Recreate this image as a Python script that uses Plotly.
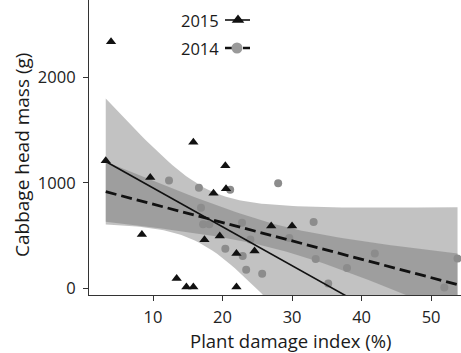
import numpy as np
import plotly.graph_objects as go

# ---- data ----
x2015 = [3.96, 3.2, 9.6, 8.4, 13.4, 14.8, 15.8, 22.0, 20.4, 18.7, 20.5, 17.4, 19.6, 22.0, 24.6, 27.0, 30.0, 15.8]
y2015 = [2341, 1210, 1053, 510, 92, 12, 12, 12, 1163, 903, 945, 461, 496, 329, 354, 591, 591, 1387]

x2014 = [12.3, 16.6, 21.1, 28.0, 16.9, 17.2, 18.1, 22.8, 24.0, 20.4, 22.9, 23.4, 25.7,
         33.1, 29.6, 33.4, 37.9, 41.9, 35.2, 51.9, 53.8]
y2014 = [1024, 955, 936, 998, 765, 607, 607, 623, 462, 376, 306, 177, 139,
         629, 477, 278, 192, 329, 45, 7, 282]

X_TICKS = [10, 20, 30, 40, 50]
Y_TICKS = [0, 1000, 2000]
X_TITLE = "Plant damage index (%)"
Y_TITLE = "Cabbage head mass (g)"
SERIES = ["2015", "2014"]

# two-sided 95% t critical values
T_CRIT = {14: 2.145, 15: 2.131, 16: 2.120, 17: 2.110, 18: 2.101, 19: 2.093,
          20: 2.086, 21: 2.080, 22: 2.074, 23: 2.069}


def lm_fit(x, y, grid):
    x = np.asarray(x, float)
    y = np.asarray(y, float)
    n = len(x)
    b, a = np.polyfit(x, y, 1)
    resid = y - (a + b * x)
    s = np.sqrt((resid ** 2).sum() / (n - 2))
    sxx = ((x - x.mean()) ** 2).sum()
    se = s * np.sqrt(1.0 / n + (grid - x.mean()) ** 2 / sxx)
    yhat = a + b * grid
    t = T_CRIT[n - 2]
    return yhat, yhat - t * se, yhat + t * se


all_x = x2015 + x2014
grid = np.linspace(min(all_x), max(all_x), 80)
fit15 = lm_fit(x2015, y2015, grid)
fit14 = lm_fit(x2014, y2014, grid)

BAND = "rgba(109,109,109,0.42)"
fig = go.Figure()

for fit in (fit15, fit14):
    yhat, lo, hi = fit
    fig.add_trace(go.Scatter(
        x=np.concatenate([grid, grid[::-1]]),
        y=np.concatenate([hi, lo[::-1]]),
        fill="toself", fillcolor=BAND, line=dict(width=0),
        mode="lines", hoverinfo="skip", showlegend=False))

fig.add_trace(go.Scatter(x=x2014, y=y2014, mode="markers",
                         marker=dict(symbol="circle", size=8, color="#8c8c8c"),
                         showlegend=False))
fig.add_trace(go.Scatter(x=x2015, y=y2015, mode="markers",
                         marker=dict(symbol="triangle-up", size=9, color="#111111"),
                         showlegend=False))
fig.add_trace(go.Scatter(x=grid, y=fit14[0], mode="lines",
                         line=dict(color="#111111", width=2.8, dash="11px,5px"),
                         showlegend=False))
fig.add_trace(go.Scatter(x=grid, y=fit15[0], mode="lines",
                         line=dict(color="#111111", width=1.6),
                         showlegend=False))

# ---- manual legend (label left of key), on a pixel overlay axis ----
leg_y = [20, 48]
fig.add_trace(go.Scatter(x=[225, 250], y=[leg_y[0]] * 2, mode="lines",
                         line=dict(color="#111111", width=1.6),
                         xaxis="x2", yaxis="y2", showlegend=False, hoverinfo="skip"))
fig.add_trace(go.Scatter(x=[238], y=[leg_y[0]], mode="markers",
                         marker=dict(symbol="triangle-up", size=11, color="#111111"),
                         xaxis="x2", yaxis="y2", showlegend=False, hoverinfo="skip"))
fig.add_trace(go.Scatter(x=[225, 250], y=[leg_y[1]] * 2, mode="lines",
                         line=dict(color="#111111", width=2.6, dash="7px,11px"),
                         xaxis="x2", yaxis="y2", showlegend=False, hoverinfo="skip"))
fig.add_trace(go.Scatter(x=[237], y=[leg_y[1]], mode="markers",
                         marker=dict(symbol="circle", size=11, color="#9a9a9a"),
                         xaxis="x2", yaxis="y2", showlegend=False, hoverinfo="skip"))

FONT = "Open Sans"
W, H = 461, 353
L, R, T, B = 89, 0, 0, 58
pw, ph = W - L - R, H - T - B

def px_x(px):
    return (px - L) / pw

def px_y(py):
    return (H - B - py) / ph

annotations = [
    dict(text=X_TITLE, x=px_x(291), y=px_y(340), xref="paper", yref="paper",
         showarrow=False, font=dict(family=FONT, size=18.5, color="#1a1a1a"),
         xanchor="center", yanchor="middle"),
    dict(text=Y_TITLE, x=px_x(22), y=px_y(155), xref="paper", yref="paper",
         showarrow=False, textangle=-90, font=dict(family=FONT, size=19, color="#1a1a1a"),
         xanchor="center", yanchor="middle"),
]
for label, yy in zip(SERIES, leg_y):
    annotations.append(dict(text=label, x=px_x(221), y=px_y(yy), xref="paper", yref="paper",
                            showarrow=False, font=dict(family=FONT, size=16.5, color="#1a1a1a"),
                            xanchor="right", yanchor="middle"))

axis_common = dict(showgrid=False, zeroline=False, showline=True, linecolor="#333333",
                   linewidth=1.2, ticks="outside", ticklen=5, tickcolor="#333333",
                   tickfont=dict(family=FONT, size=16.5, color="#222222"))

fig.update_layout(
    width=W, height=H,
    margin=dict(l=L, r=R, t=T, b=B, pad=0),
    paper_bgcolor="white", plot_bgcolor="white",
    showlegend=False,
    xaxis=dict(range=[0.79, 54.3], tickvals=X_TICKS, ticklabelstandoff=2, **axis_common),
    yaxis=dict(range=[-64, 2738], tickvals=Y_TICKS, ticklabelstandoff=4, **axis_common),
    xaxis2=dict(range=[L, W - R], domain=[0, 1], overlaying="x", anchor="y2",
                visible=False, fixedrange=True),
    yaxis2=dict(range=[H - B, T], domain=[0, 1], overlaying="y", anchor="x2",
                visible=False, fixedrange=True),
    annotations=annotations,
)

fig.write_html("out.html")
